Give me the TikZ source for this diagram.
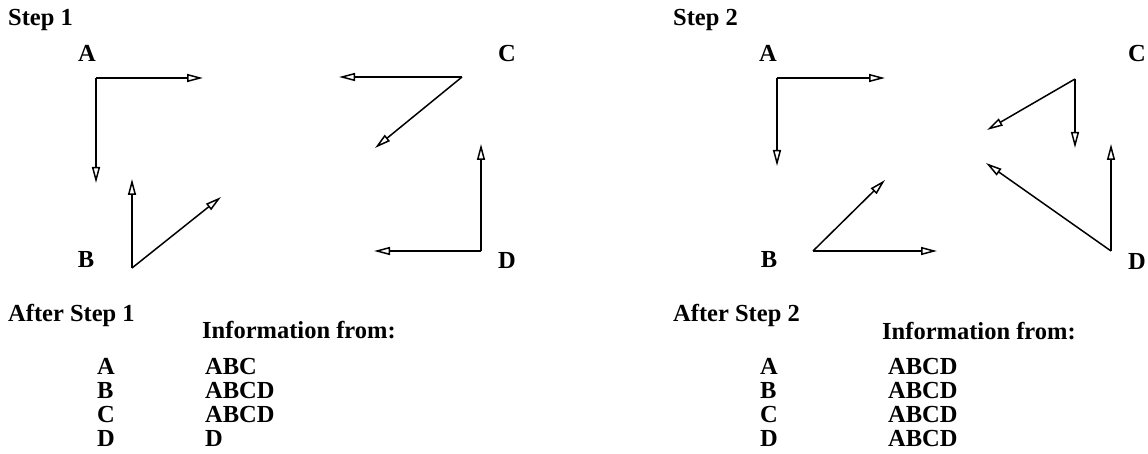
\documentclass[tikz,border=0pt]{standalone}
\usepackage{fontspec}
\setmainfont{Liberation Serif}
\usepackage{tikz}
\usetikzlibrary{arrows.meta}
\tikzset{
  lbl/.style={anchor=base,inner sep=0pt,font=\fontsize{24.5}{24.5}\selectfont\bfseries},
  txt/.style={anchor=base west,inner sep=0pt,font=\fontsize{24.5}{24.5}\selectfont\bfseries},
  msg/.style={-{Triangle[open,length=16pt,width=8pt]},line width=1.5pt}
}
\begin{document}
\begin{tikzpicture}[x=1pt,y=-1pt]
\useasboundingbox (0,0) rectangle (1148,454);
% ---- STEP 1 ----
\node[txt] (stepa) at (8,26) {Step 1};
\node[lbl] (la) at (87,62) {A};
\node[lbl] (lb) at (86,268) {B};
\node[lbl] (lc) at (507,62) {C};
\node[lbl] (ld) at (507,269) {D};
\coordinate (pa) at (96,78);  \coordinate (pae) at (203,78);  \coordinate (pas) at (96,183);
\coordinate (pb) at (132,268); \coordinate (pbn) at (132,179); \coordinate (pbd) at (221,197);
\coordinate (pc) at (462,77); \coordinate (pcw) at (339,77);  \coordinate (pcd) at (375,148);
\coordinate (pd) at (481,251); \coordinate (pdn) at (481,144); \coordinate (pdw) at (374,251);
\draw[msg] (pa) -- (pae); \draw[msg] (pa) -- (pas);
\draw[msg] (pb) -- (pbn); \draw[msg] (pb) -- (pbd);
\draw[msg] (pc) -- (pcw); \draw[msg] (pc) -- (pcd);
\draw[msg] (pd) -- (pdn); \draw[msg] (pd) -- (pdw);
\node[txt] (afta) at (8,321) {After Step 1};
\node[txt] (infa) at (202,338) {Information from:};
\foreach \n/\f [count=\i] in {A/ABC,B/ABCD,C/ABCD,D/D}{
  \node[txt] (ra\n) at (97,350+24*\i) {\n};
  \node[txt] (ia\n) at (205,350+24*\i) {\f};}
% ---- STEP 2 ----
\node[txt] (stepb) at (673,26) {Step 2};
\node[lbl] (ma) at (768,62) {A};
\node[lbl] (mb) at (769,268) {B};
\node[lbl] (mc) at (1137,62) {C};
\node[lbl] (md) at (1137,270) {D};
\coordinate (qa) at (777,78);  \coordinate (qae) at (885,78);  \coordinate (qas) at (777,166);
\coordinate (qb) at (813,251); \coordinate (qbe) at (937,251); \coordinate (qbd) at (885,180);
\coordinate (qc) at (1075,79); \coordinate (qcs) at (1075,148); \coordinate (qcd) at (987,130);
\coordinate (qd) at (1111,251); \coordinate (qdn) at (1111,144); \coordinate (qdd) at (986,163);
\draw[msg] (qa) -- (qae); \draw[msg] (qa) -- (qas);
\draw[msg] (qb) -- (qbe); \draw[msg] (qb) -- (qbd);
\draw[msg] (qc) -- (qcs); \draw[msg] (qc) -- (qcd);
\draw[msg] (qd) -- (qdn); \draw[msg] (qd) -- (qdd);
\node[txt] (aftb) at (673,321) {After Step 2};
\node[txt] (infb) at (882,339) {Information from:};
\foreach \n/\f [count=\i] in {A/ABCD,B/ABCD,C/ABCD,D/ABCD}{
  \node[txt] (rb\n) at (760,350+24*\i) {\n};
  \node[txt] (ib\n) at (888,350+24*\i) {\f};}
\end{tikzpicture}
\end{document}
